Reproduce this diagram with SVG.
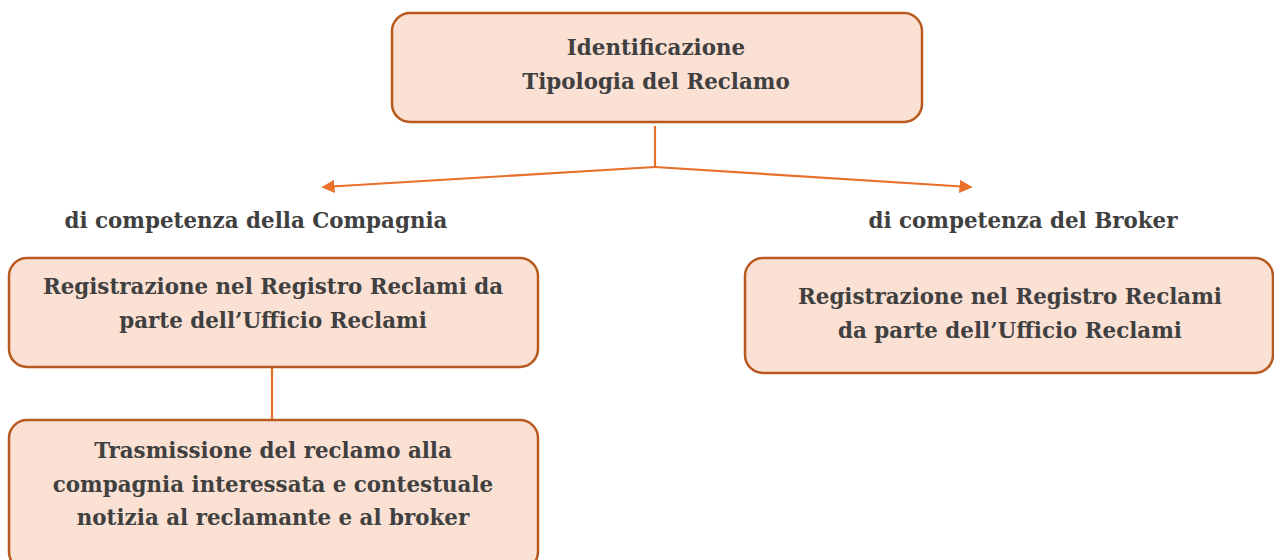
<svg xmlns="http://www.w3.org/2000/svg" width="1274" height="560" viewBox="0 0 1274 560">
<style>
.box{fill:#fbe1d3;stroke:#b85a20;stroke-width:2.5}
.t{font-family:"DejaVu Serif","Liberation Serif",serif;font-weight:bold;font-size:21.4px;fill:#404040;text-anchor:middle}
.c{stroke:#e8702a;stroke-width:2.2;fill:none}
</style>
<defs>
<marker id="ah" viewBox="0 0 10 10" refX="8" refY="5" markerWidth="6" markerHeight="6" orient="auto" markerUnits="strokeWidth">
<path d="M0,0 L10,5 L0,10 z" fill="#e8702a"/>
</marker>
</defs>
<rect width="1274" height="560" fill="#ffffff"/>
<g id="connectors">
<line class="c" x1="655" y1="126" x2="655" y2="167"/>
<line class="c" x1="655" y1="167" x2="324" y2="187" marker-end="url(#ah)"/>
<line class="c" x1="655" y1="167" x2="970" y2="187" marker-end="url(#ah)"/>
<line class="c" x1="272" y1="367" x2="272" y2="420"/>
</g>
<g id="n-top">
<rect class="box" x="392" y="13" width="530" height="109" rx="18"/>
<text class="t" x="656" y="55">Identificazione</text>
<text class="t" x="656" y="89">Tipologia del Reclamo</text>
</g>
<g id="label-left">
<text class="t" x="256" y="228">di competenza della Compagnia</text>
</g>
<g id="label-right">
<text class="t" x="1023" y="228">di competenza del Broker</text>
</g>
<g id="n-left1">
<rect class="box" x="9" y="258" width="529" height="109" rx="18"/>
<text class="t" x="273" y="294">Registrazione nel Registro Reclami da</text>
<text class="t" x="273" y="328">parte dell’Ufficio Reclami</text>
</g>
<g id="n-left2">
<rect class="box" x="9" y="420" width="529" height="150" rx="18"/>
<text class="t" x="273" y="458">Trasmissione del reclamo alla</text>
<text class="t" x="273" y="492">compagnia interessata e contestuale</text>
<text class="t" x="273" y="525">notizia al reclamante e al broker</text>
</g>
<g id="n-right">
<rect class="box" x="745" y="258" width="528" height="115" rx="18"/>
<text class="t" x="1010" y="304">Registrazione nel Registro Reclami</text>
<text class="t" x="1010" y="338">da parte dell’Ufficio Reclami</text>
</g>
</svg>
